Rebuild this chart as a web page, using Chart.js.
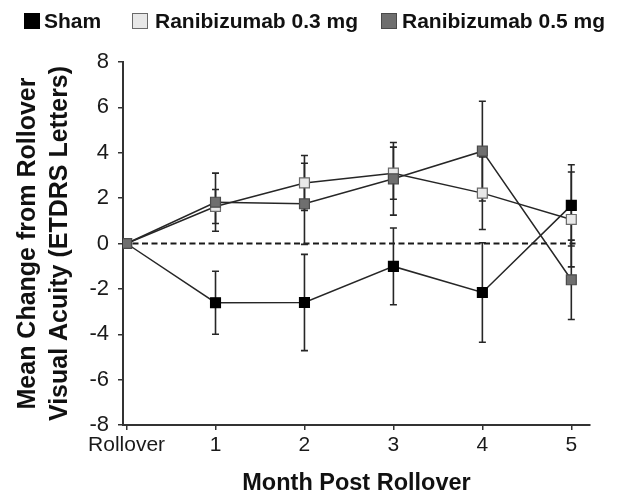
<!DOCTYPE html>
<html>
<head>
<meta charset="utf-8">
<script src="https://cdn.jsdelivr.net/npm/chart.js@4"></script>
<style>
  html, body { margin: 0; padding: 0; background: #fff; }
  #wrap { width: 619px; height: 492px; position: relative; }
</style>
</head>
<body>
<div id="wrap"><canvas id="c" width="619" height="492"></canvas></div>
<script>
// ---- data ----
const months = [0, 1, 2, 3, 4, 5];
const xTickLabels = ['Rollover', '1', '2', '3', '4', '5'];
const seriesNames = ['Sham', 'Ranibizumab 0.3 mg', 'Ranibizumab 0.5 mg'];
const shamMean = [0, -2.61, -2.60, -1.01, -2.16, 1.68];
const shamErr  = [0, 1.39, 2.12, 1.69, 2.19, 1.79];
const rbz03Mean = [0, 1.63, 2.67, 3.10, 2.22, 1.06];
const rbz03Err  = [0, 0.75, 1.21, 1.15, 1.60, 2.09];
const rbz05Mean = [0, 1.82, 1.75, 2.85, 4.07, -1.60];
const rbz05Err  = [0, 1.28, 1.79, 1.60, 2.20, 1.75];
const yTicks = [-8, -6, -4, -2, 0, 2, 4, 6, 8];

const fillColors = ['#000000', '#e8e8e8', '#6f6f6f'];
const edgeColors = ['#000000', '#6a6a6a', '#4a4a4a'];
const means = [shamMean, rbz03Mean, rbz05Mean];
const errs = [shamErr, rbz03Err, rbz05Err];

const FONT = "'Liberation Sans', Arial, Helvetica, sans-serif";

const datasets = seriesNames.map((name, i) => ({
  label: name,
  data: months.map((m, j) => ({ x: m, y: means[i][j] })),
  errs: errs[i],
  borderColor: '#262626',
  borderWidth: 1.5,
  backgroundColor: fillColors[i],
  pointBackgroundColor: fillColors[i],
  pointBorderColor: edgeColors[i],
  pointBorderWidth: 1.2,
  pointStyle: 'rect',
  pointRadius: 7,
  pointHoverRadius: 7,
  tension: 0,
  fill: false,
  order: 3 - i
}));

const zeroLinePlugin = {
  id: 'zeroLine',
  beforeDatasetsDraw(chart) {
    const { ctx, chartArea, scales } = chart;
    const y = scales.y.getPixelForValue(0);
    const xEnd = scales.x.getPixelForValue(months[months.length - 1]) + 6;
    ctx.save();
    ctx.strokeStyle = '#1a1a1a';
    ctx.lineWidth = 2;
    ctx.setLineDash([6, 3.5]);
    ctx.beginPath();
    ctx.moveTo(chartArea.left, y);
    ctx.lineTo(xEnd, y);
    ctx.stroke();
    ctx.restore();
  }
};

const errorBarPlugin = {
  id: 'errorBars',
  beforeDatasetsDraw(chart) {
    const { ctx, scales } = chart;
    ctx.save();
    ctx.strokeStyle = '#262626';
    ctx.lineWidth = 1.6;
    chart.data.datasets.forEach((ds) => {
      ds.data.forEach((pt, j) => {
        const e = ds.errs[j];
        if (!e) return;
        const x = scales.x.getPixelForValue(pt.x);
        const yt = scales.y.getPixelForValue(pt.y + e);
        const yb = scales.y.getPixelForValue(pt.y - e);
        ctx.beginPath();
        ctx.moveTo(x, yt); ctx.lineTo(x, yb);
        ctx.moveTo(x - 3.5, yt); ctx.lineTo(x + 3.5, yt);
        ctx.moveTo(x - 3.5, yb); ctx.lineTo(x + 3.5, yb);
        ctx.stroke();
      });
    });
    ctx.restore();
  }
};

const legendPlugin = {
  id: 'customLegend',
  afterDraw(chart) {
    const { ctx } = chart;
    const boxX = [24, 132, 381];
    const textX = [44, 155, 402];
    const yc = 21;
    ctx.save();
    ctx.font = "bold 21px " + FONT;
    ctx.textBaseline = 'middle';
    ctx.textAlign = 'left';
    seriesNames.forEach((name, i) => {
      ctx.fillStyle = fillColors[i];
      ctx.fillRect(boxX[i], yc - 8, 16, 16);
      ctx.strokeStyle = edgeColors[i];
      ctx.lineWidth = 1;
      ctx.strokeRect(boxX[i] + 0.5, yc - 7.5, 15, 15);
      ctx.fillStyle = '#111';
      ctx.fillText(name, textX[i], yc + 1);
    });
    ctx.restore();
  }
};

new Chart(document.getElementById('c'), {
  type: 'line',
  data: { datasets },
  plugins: [zeroLinePlugin, errorBarPlugin, legendPlugin],
  options: {
    responsive: false,
    devicePixelRatio: 1,
    animation: false,
    layout: { padding: { left: 0, right: 29, top: 62, bottom: 0 } },
    plugins: { legend: { display: false }, tooltip: { enabled: false } },
    scales: {
      x: {
        type: 'linear',
        min: -0.04,
        max: 5.21,
        afterBuildTicks: (s) => { s.ticks = months.map(v => ({ value: v })); },
        afterFit: (s) => { s.height = 67; },
        ticks: {
          autoSkip: false,
          maxRotation: 0,
          padding: 3,
          color: '#1a1a1a',
          font: { family: FONT, size: 21 },
          callback: (v) => xTickLabels[months.indexOf(v)]
        },
        grid: { display: true, drawOnChartArea: false, drawTicks: true, tickLength: 5, color: '#333', lineWidth: 1.5 },
        border: { display: true, color: '#333', width: 2 },
        title: {
          display: true,
          text: 'Month Post Rollover',
          color: '#111',
          font: { family: FONT, size: 23.5, weight: 'bold', lineHeight: 0.75 },
          padding: { top: 0, bottom: 0 }
        }
      },
      y: {
        type: 'linear',
        min: -8,
        max: 8,
        afterBuildTicks: (s) => { s.ticks = yTicks.map(v => ({ value: v })); },
        afterFit: (s) => { s.width = 123; },
        ticks: {
          padding: 9,
          color: '#1a1a1a',
          font: { family: FONT, size: 22 }
        },
        grid: { display: true, drawOnChartArea: false, drawTicks: true, tickLength: 5, color: '#333', lineWidth: 1.5 },
        border: { display: true, color: '#333', width: 2 },
        title: {
          display: true,
          text: ['Mean Change from Rollover', 'Visual Acuity (ETDRS Letters)'],
          color: '#111',
          font: { family: FONT, size: 25, weight: 'bold', lineHeight: 1.28 },
          padding: { top: 12, bottom: 0 }
        }
      }
    }
  }
});
</script>
</body>
</html>
